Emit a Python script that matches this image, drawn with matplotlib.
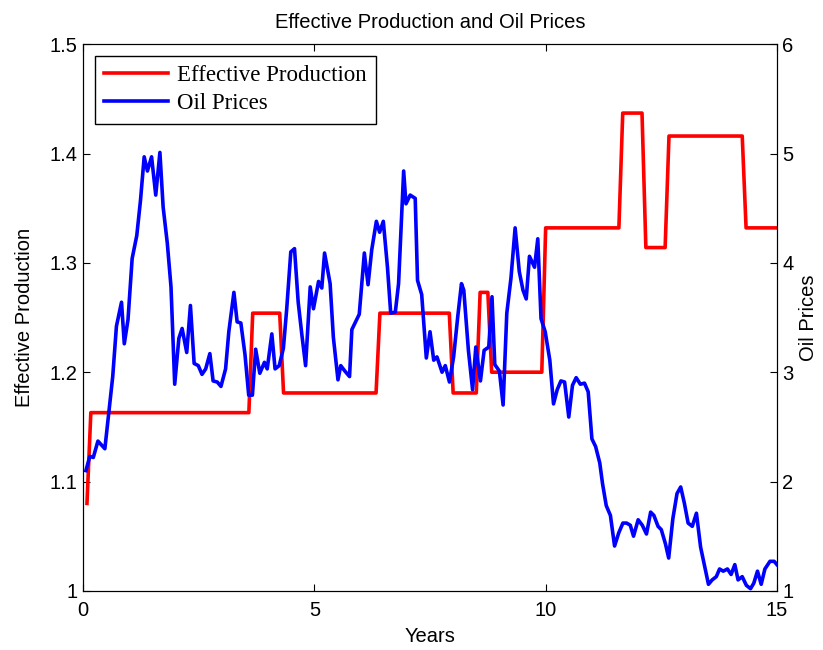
import numpy as np
import matplotlib
matplotlib.use("Agg")
import matplotlib.pyplot as plt

# effective production: step levels and the month where each level starts
prod_start_month = [1, 2, 44, 52, 77, 96, 103, 106, 120, 140, 146, 152, 172]
prod_level = [1.080, 1.163, 1.254, 1.181, 1.254, 1.181, 1.273, 1.200,
              1.332, 1.437, 1.314, 1.416, 1.332]
n_months = 180

# oil prices (years, price)
oil_years = [0.06, 0.145, 0.22, 0.32, 0.47, 0.64, 0.72, 0.83, 0.89, 0.97,
             1.06, 1.16, 1.24, 1.32, 1.39, 1.48, 1.57, 1.66, 1.73, 1.82,
             1.90, 1.98, 2.07, 2.14, 2.24, 2.32, 2.40, 2.49, 2.57, 2.65,
             2.74, 2.81, 2.90, 2.98, 3.08, 3.15, 3.26, 3.33, 3.41, 3.50,
             3.58, 3.66, 3.73, 3.82, 3.92, 3.98, 4.08, 4.15, 4.24, 4.33,
             4.40, 4.49, 4.57, 4.65, 4.73, 4.81, 4.91, 4.98, 5.09, 5.16,
             5.22, 5.34, 5.41, 5.51, 5.57, 5.66, 5.76, 5.81, 5.97, 6.08,
             6.16, 6.24, 6.34, 6.41, 6.49, 6.58, 6.65, 6.75, 6.82, 6.93,
             6.98, 7.07, 7.18, 7.23, 7.32, 7.42, 7.50, 7.58, 7.65, 7.76,
             7.83, 7.92, 8.01, 8.10, 8.18, 8.23, 8.33, 8.42, 8.49, 8.59,
             8.67, 8.77, 8.84, 8.90, 9.00, 9.08, 9.16, 9.25, 9.34, 9.43,
             9.51, 9.58, 9.65, 9.76, 9.83, 9.90, 9.99, 10.09, 10.17, 10.25,
             10.33, 10.41, 10.50, 10.58, 10.66, 10.75, 10.84, 10.92, 11.00, 11.08,
             11.17, 11.23, 11.31, 11.40, 11.49, 11.58, 11.67, 11.75, 11.83, 11.90,
             12.00, 12.09, 12.18, 12.27, 12.34, 12.43, 12.50, 12.59, 12.66, 12.75,
             12.84, 12.92, 13.00, 13.08, 13.17, 13.26, 13.35, 13.44, 13.52, 13.60,
             13.69, 13.76, 13.84, 13.93, 14.01, 14.09, 14.16, 14.25, 14.34, 14.43,
             14.50, 14.58, 14.66, 14.74, 14.85, 14.94, 15.00]
oil_price = [2.10, 2.23, 2.22, 2.37, 2.30, 2.96, 3.42, 3.64, 3.26, 3.48,
             4.04, 4.25, 4.57, 4.97, 4.84, 4.97, 4.62, 5.01, 4.51, 4.18,
             3.78, 2.89, 3.31, 3.40, 3.18, 3.61, 3.08, 3.06, 2.98, 3.03,
             3.17, 2.92, 2.91, 2.87, 3.03, 3.37, 3.73, 3.46, 3.45, 3.16,
             2.79, 2.79, 3.21, 2.99, 3.09, 3.03, 3.35, 3.03, 3.06, 3.22,
             3.57, 4.10, 4.13, 3.64, 3.34, 3.06, 3.78, 3.58, 3.83, 3.77,
             4.09, 3.81, 3.32, 2.93, 3.06, 3.01, 2.96, 3.39, 3.53, 4.09,
             3.80, 4.12, 4.38, 4.28, 4.38, 3.96, 3.54, 3.55, 3.81, 4.84,
             4.54, 4.62, 4.59, 3.84, 3.71, 3.13, 3.37, 3.11, 3.14, 3.00,
             3.06, 2.91, 3.14, 3.51, 3.81, 3.75, 3.20, 2.84, 3.23, 2.92,
             3.20, 3.23, 3.69, 3.07, 3.01, 2.70, 3.54, 3.86, 4.32, 3.92,
             3.75, 3.67, 4.06, 3.96, 4.22, 3.49, 3.37, 3.11, 2.71, 2.84,
             2.92, 2.91, 2.59, 2.88, 2.95, 2.89, 2.90, 2.82, 2.39, 2.32,
             2.17, 1.98, 1.78, 1.69, 1.41, 1.53, 1.62, 1.62, 1.60, 1.50,
             1.65, 1.60, 1.52, 1.72, 1.69, 1.59, 1.56, 1.43, 1.30, 1.66,
             1.89, 1.95, 1.80, 1.62, 1.59, 1.71, 1.40, 1.22, 1.06, 1.10,
             1.13, 1.20, 1.18, 1.20, 1.15, 1.24, 1.10, 1.13, 1.05, 1.02,
             1.07, 1.18, 1.06, 1.20, 1.27, 1.27, 1.24]

counts = np.diff(prod_start_month + [n_months + 1])
prod = np.repeat(prod_level, counts)
prod_years = np.arange(1, n_months + 1) / 12.0

sans = "Liberation Sans"
serif = "Liberation Serif"
fs = 14.5

fig = plt.figure(figsize=(8.23, 6.5), dpi=100)
ax1 = fig.add_axes([0.101, 0.091, 0.843, 0.841])
ax2 = ax1.twinx()

l1, = ax1.plot(prod_years, prod, color="red", lw=2.6)
l2, = ax2.plot(oil_years, oil_price, color="blue", lw=2.6)

ax1.set_xlim(0, 15)
ax1.set_ylim(1, 1.5)
ax2.set_ylim(1, 6)
ax1.set_xticks([0, 5, 10, 15])
ax1.set_yticks([1, 1.1, 1.2, 1.3, 1.4, 1.5])
ax1.set_yticklabels(["1", "1.1", "1.2", "1.3", "1.4", "1.5"])
ax2.set_yticks([1, 2, 3, 4, 5, 6])

ax1.tick_params(axis="x", direction="in", top=True, length=5, labelsize=fs, pad=7)
ax1.tick_params(axis="y", direction="in", length=5, labelsize=fs, pad=4)
ax2.tick_params(axis="y", direction="in", length=5, labelsize=fs, pad=4)
for a in (ax1, ax2):
    for lab in a.get_xticklabels() + a.get_yticklabels():
        lab.set_family(sans)

ax1.set_xlabel("Years", fontsize=fs, family=sans, labelpad=5)
ax1.set_ylabel("Effective Production", fontsize=fs, family=sans, labelpad=11)
ax2.set_ylabel("Oil Prices", fontsize=fs, family=sans, labelpad=4)
ax1.set_title("Effective Production and Oil Prices", fontsize=fs, family=sans, pad=12)

leg = ax2.legend([l1, l2], ["Effective Production", "Oil Prices"], loc="upper left",
                 bbox_to_anchor=(0.017, 0.978), prop={"family": serif, "size": 16.5},
                 fancybox=False, framealpha=1, edgecolor="black", handlelength=2.8,
                 handletextpad=0.4, borderpad=0.4, labelspacing=0.3, borderaxespad=0)
leg.get_frame().set_linewidth(1.0)

fig.savefig("out.png", dpi=100)
